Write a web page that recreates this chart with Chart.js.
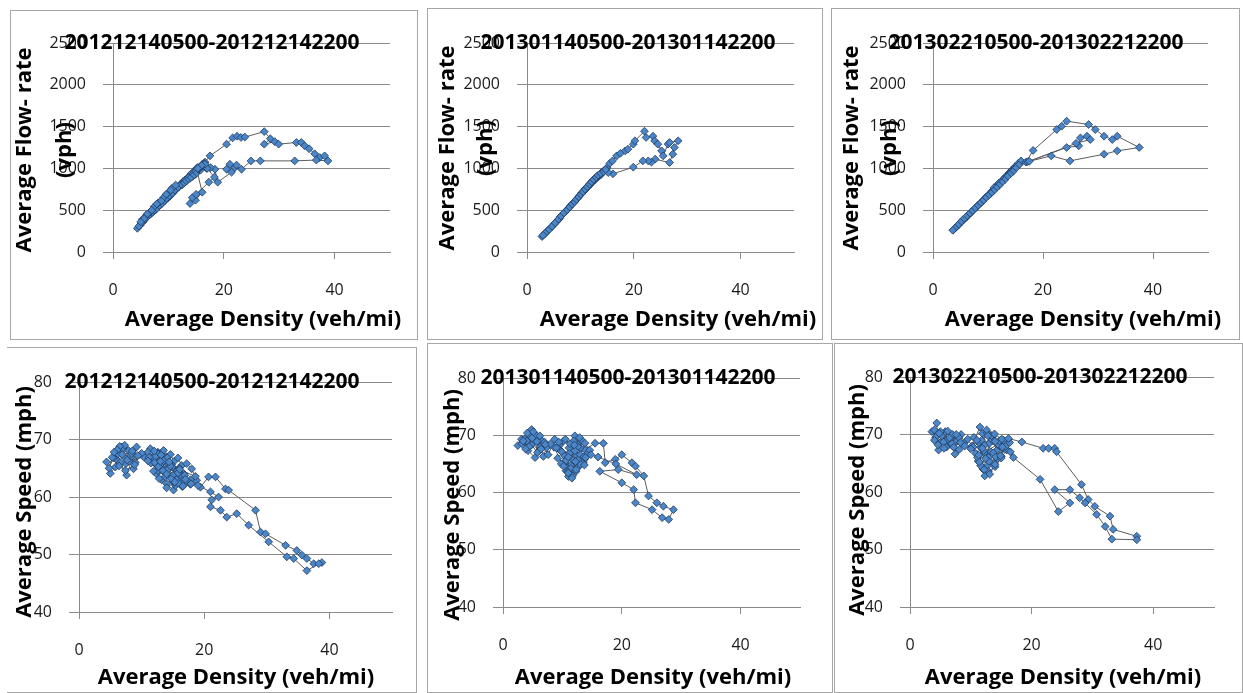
<!DOCTYPE html>
<html>
<head>
<meta charset="UTF-8">
<title>Flow-rate and speed vs density</title>
<script src="https://cdn.jsdelivr.net/npm/chart.js"></script>
<style>
  body {
    margin: 0;
    width: 1243px;
    height: 693px;
    overflow: hidden;
    position: relative;
    background: #ffffff;
    font-family: "Open Sans", sans-serif;
  }
  .frame {
    position: absolute;
    box-sizing: border-box;
    border: 1px solid #a6a6a6;
  }
  canvas {
    position: absolute;
  }
</style>
</head>
<body>
<script>
// 2012-12-14, 05:00-22:00
const decFlowDensity = [4.4,4.9,5.4,5.7,6.1,6.6,7.0,7.5,8.0,8.4,8.9,9.4,9.9,10.3,10.8,11.2,11.5,11.9,12.3,12.7,13.0,13.4,13.8,14.2,14.6,15.0,15.3,15.6,15.9,16.2,16.6,17.5,
  20.5,21.6,22.4,23.1,23.8,27.3,28.4,27.3,29.2,29.9,33.1,34.0,34.6,35.4,36.4,37.3,38.2,38.8,36.7,32.8,
  26.6,24.9,23.2,22.0,22.3,21.1,20.5,21.4,18.9,18.4,17.6,16.9,16.2,15.7,16.4,15.2,
  16.1,14.9,13.9,14.3,15.0,17.3,18.3,17.0,16.5,15.8,
  15.2,14.5,13.8,14.6,15.4,16.0,15.1,14.0,13.2,12.6,13.5,14.8,15.9,16.6,15.5,14.3,13.0,12.2,11.6,12.4,13.6,14.9,16.0,15.3,
  14.9,14.4,13.9,13.3,12.9,12.5,12.0,11.6,11.0,10.5,10.0,9.5,9.0,8.6,8.1,7.7,7.2,6.8,6.3,5.9,5.5,5.1,4.7,
  5.3,6.0,6.7,7.4,8.2,9.1,9.8,10.6,11.3,10.4,9.6,8.7,7.9,7.0,6.2,5.6,5.0];
const decFlow = [283,320,360,385,415,445,470,500,530,555,585,615,645,670,705,735,760,780,800,820,845,865,885,900,925,950,975,1000,1030,1055,1075,1150,
  1290,1365,1385,1370,1375,1440,1355,1290,1320,1290,1310,1310,1270,1235,1175,1130,1150,1090,1100,1090,
  1090,1090,990,1010,1040,1050,990,955,835,990,1010,1000,1020,990,1040,960,
  715,620,580,650,690,835,895,1000,1060,980,
  1010,960,905,940,990,1030,985,930,870,840,880,950,1020,1050,1000,925,860,810,780,815,890,965,1035,1000,
  930,905,880,850,830,805,790,765,730,690,660,630,595,565,540,505,480,455,430,400,375,345,310,
  390,440,480,540,590,650,700,760,800,740,690,610,575,500,455,400,360];

const decSpeedDensity = [4.4,5.0,5.8,6.3,6.0,6.8,7.2,7.9,7.5,8.3,8.7,9.2,7.6,6.6,6.2,7.0,8.0,
  10.3,11.4,12.0,12.6,13.1,13.5,14.0,14.6,15.2,15.8,16.4,17.2,18.0,18.8,19.4,20.7,21.8,23.4,23.9,28.2,
  29.0,29.8,33.0,34.8,35.6,36.4,37.5,38.8,38.3,36.4,34.3,33.2,30.3,27.1,25.2,23.6,22.6,21.0,21.2,22.3,
  21.0,19.0,17.8,16.5,15.1,14.0,13.2,12.4,12.8,13.6,14.5,15.5,16.0,14.8,13.9,13.0,12.2,11.7,12.9,14.2,
  15.0,16.8,17.5,16.2,15.4,
  11.0,11.8,12.5,13.3,14.1,14.9,15.7,16.3,15.0,13.8,12.6,11.5,12.2,13.0,14.3,15.6,16.9,17.8,16.5,15.2,14.0,12.8,11.9,13.5,14.6,15.8,
  12.1,13.4,14.7,15.9,17.0,16.1,14.4,13.1,12.0,11.2,12.7,14.0,15.3,16.6,17.9,18.6,
  13.0,11.0,10.0,9.0,8.4,7.3,6.5,5.5,4.8,
  5.3,6.1,6.9,7.7,8.5,9.4,8.9,7.4,6.4,5.6];
const decSpeed = [66.1,64.1,65.2,68.1,66.5,68.7,67.0,68.1,65.8,66.9,64.9,68.7,63.8,66.0,67.5,68.4,66.2,
  67.0,68.4,67.2,67.8,66.5,68.1,67.0,67.4,66.2,66.8,65.5,65.8,64.9,62.9,61.7,63.5,63.5,61.4,61.2,57.7,
  53.9,53.6,51.6,50.7,49.9,49.3,48.4,48.6,48.4,47.2,49.3,49.6,52.2,55.1,57.1,56.5,57.7,58.3,59.5,60.0,
  60.9,62.0,63.0,62.5,61.2,62.3,63.0,64.0,65.2,64.4,63.6,64.2,65.0,65.6,66.0,64.8,65.8,66.6,67.5,65.1,
  63.8,64.0,62.6,63.3,62.0,
  67.8,66.9,67.6,66.0,66.8,65.2,64.6,63.9,62.8,63.5,64.6,65.9,67.0,65.6,64.9,63.0,63.8,62.2,61.8,62.5,61.6,63.2,64.5,66.3,65.4,64.2,
  66.0,64.6,63.2,62.4,63.1,64.8,66.1,67.3,68.0,66.9,65.3,64.0,62.6,61.9,62.3,63.6,
  66.2,66.3,67.6,66.0,67.5,69.0,68.8,66.8,65.0,
  66.9,68.2,67.4,66.4,68.0,67.2,65.6,64.6,65.4,67.8];

// 2013-01-14, 05:00-22:00
const janFlowDensity = [2.8,3.3,3.7,4.2,4.7,5.1,5.6,6.1,6.5,7.0,7.5,8.0,8.4,8.9,9.3,9.7,10.1,10.5,10.9,11.3,
  11.7,12.1,12.5,12.9,13.3,13.8,14.3,15.0,15.5,16.0,16.8,17.5,18.4,18.9,19.9,20.2,22.0,22.3,23.6,23.9,
  24.5,25.2,25.5,26.4,26.7,28.3,27.6,27.3,26.7,24.0,23.3,22.7,21.7,19.9,16.1,
  14.2,13.6,12.8,12.0,11.4,10.8,11.6,12.4,13.2,14.0,14.8,13.9,12.9,11.9,10.9,10.2,10.8,11.7,12.7,13.7,
  15.2,14.7,14.0,13.5,13.0,12.6,12.2,11.8,11.4,11.0,10.6,10.2,9.8,9.4,9.0,8.6,8.2,7.8,7.3,6.8,6.2,5.7,5.2,4.6,4.0,3.4,3.0];
const janFlow = [185,215,245,275,305,335,365,400,440,470,505,540,570,600,630,660,690,720,750,780,
  810,840,865,890,915,940,965,1010,1060,1090,1150,1180,1210,1230,1290,1330,1445,1370,1385,1330,
  1290,1210,1150,1290,1310,1330,1250,1170,1070,1110,1075,1090,1090,1015,935,
  960,915,870,820,780,735,795,850,895,945,985,930,875,815,755,705,745,800,865,920,
  950,985,940,925,900,870,850,820,790,760,730,700,670,640,610,580,555,525,490,460,420,380,345,300,260,225,200];

const janSpeedDensity = [2.5,3.1,3.9,4.8,4.2,5.4,5.9,6.3,6.8,7.3,6.0,5.0,4.5,3.6,5.6,6.6,7.6,
  8.7,9.5,10.0,9.2,10.4,11.0,10.6,11.5,12.1,12.6,13.2,13.8,12.4,11.8,10.8,11.3,12.9,13.5,14.2,13.0,11.6,10.2,9.6,
  9.1,9.9,10.7,11.4,12.2,13.0,12.6,11.9,11.1,10.4,9.8,10.9,11.7,12.8,13.6,12.1,11.3,10.5,9.4,8.6,
  10.2,11.0,11.6,12.3,13.1,13.9,14.6,13.8,12.9,12.0,11.2,10.6,
  15.5,16.9,17.2,18.9,20.0,21.7,22.3,23.7,24.5,25.9,27.0,28.7,27.9,26.8,25.1,22.3,22.0,20.0,16.3,19.4,
  22.5,19.0,16.0,14.8,13.7,12.3,11.0,9.0,8.0,7.0,5.8,4.8,4.0,3.2,
  3.4,4.1,4.9,5.7,6.4,7.1,6.2,5.1,4.4,3.8];
const janSpeed = [68.2,69.3,69.6,71.0,67.3,66.1,69.3,68.0,66.3,67.8,67.2,68.6,69.8,68.8,70.0,69.0,66.6,
  69.3,68.2,67.0,66.0,65.2,62.8,63.8,64.8,69.9,68.4,69.2,67.5,66.5,65.6,64.3,63.3,66.0,65.2,66.8,67.8,68.6,69.0,67.4,
  68.0,67.1,65.9,64.2,65.4,66.6,68.0,69.0,67.8,66.4,65.0,63.6,62.9,64.6,66.2,67.3,68.5,69.3,68.8,67.9,
  64.6,63.4,62.5,63.7,64.9,66.1,67.4,68.6,69.6,68.3,66.8,65.6,
  68.6,68.6,65.2,65.8,66.6,65.2,64.6,62.9,59.4,58.2,57.6,57.0,55.3,55.6,57.0,58.2,60.5,61.7,63.7,64.0,
  63.1,65.0,66.2,66.6,64.8,64.0,66.2,67.8,68.5,68.8,67.0,68.3,69.0,68.5,
  69.0,70.4,69.5,68.9,67.6,68.4,69.9,70.6,68.0,67.6];

// 2013-02-21, 05:00-22:00
const febFlowDensity = [3.7,4.1,4.6,5.0,5.5,6.0,6.4,6.9,7.3,7.8,8.2,8.7,9.2,9.6,10.1,10.6,11.0,11.5,11.9,12.4,
  12.9,13.4,13.9,14.4,14.9,15.5,16.0,16.9,18.2,22.5,23.4,24.3,28.3,29.5,31.1,32.6,33.5,37.5,33.5,31.1,
  24.9,21.5,17.2,24.3,26.5,26.8,28.0,28.6,26.0,17.5,
  14.6,13.9,13.1,12.3,11.5,10.8,11.7,12.6,13.5,14.3,15.1,14.0,12.8,11.9,11.1,12.0,13.0,14.1,
  15.6,15.0,14.5,14.0,13.5,13.0,12.5,12.0,11.5,11.0,10.5,10.0,9.5,9.0,8.5,8.0,7.5,7.0,6.5,6.0,5.5,5.0,4.5,4.0,3.6];
const febFlow = [264,290,320,350,380,410,440,470,500,530,560,590,625,655,685,715,745,775,805,840,
  875,910,945,985,1020,1060,1090,1075,1215,1465,1505,1565,1525,1465,1385,1345,1385,1250,1210,1170,
  1090,1150,1080,1250,1270,1365,1385,1345,1300,1085,
  990,945,890,835,785,735,790,855,915,960,1010,950,870,815,770,825,885,955,
  1040,1000,960,930,900,860,830,795,765,730,700,670,640,605,575,545,515,480,450,420,390,355,320,285,260];

const febSpeedDensity = [3.6,4.4,4.7,5.2,5.8,6.3,6.9,7.4,7.8,8.4,8.9,6.0,5.0,4.2,7.0,8.1,9.5,10.2,11.5,11.9,
  12.3,12.0,11.2,10.8,11.6,12.5,13.0,13.6,14.2,14.8,15.4,15.0,13.8,12.8,12.2,13.3,14.4,15.8,
  10.5,11.3,12.1,12.9,13.7,14.5,15.3,14.1,13.0,12.0,11.1,10.4,11.8,12.7,13.5,12.4,11.6,12.9,14.0,15.0,15.9,14.7,13.4,12.2,
  11.4,12.2,13.1,14.0,14.9,15.7,16.4,15.1,13.9,12.6,11.9,11.3,
  16.2,18.4,21.9,22.8,23.8,24.1,28.2,29.3,30.4,32.9,33.4,37.3,37.3,33.2,32.1,30.7,28.8,27.9,26.3,23.8,26.3,24.4,
  21.4,17.0,16.5,15.2,14.0,12.8,11.0,10.0,9.0,8.0,7.0,6.0,5.0,4.0,
  4.0,4.8,5.5,6.2,6.9,7.6,8.3,7.2,6.5,5.6,4.6];
const febSpeed = [70.5,72.0,67.3,69.8,70.5,68.8,69.6,66.6,69.0,70.0,68.5,67.8,68.6,69.5,68.0,67.4,69.2,68.0,71.3,70.2,
  62.8,64.0,65.4,66.7,67.8,66.0,68.4,69.6,67.2,68.0,69.0,66.2,65.0,64.6,66.8,67.0,65.8,67.5,
  69.5,68.6,67.2,66.0,66.8,68.3,67.6,66.1,65.3,64.1,66.0,67.8,69.0,70.3,69.1,65.8,64.6,63.6,64.4,65.9,67.3,68.9,69.8,68.1,
  65.2,63.9,63.1,64.8,66.3,67.9,68.6,69.2,70.1,70.8,67.6,66.4,
  69.3,68.7,67.6,67.6,67.6,67.0,61.3,58.7,57.5,55.8,53.5,52.3,51.7,51.8,54.0,56.1,58.1,59.0,60.4,60.4,58.1,56.6,
  62.2,66.0,67.0,67.8,68.8,69.8,69.0,67.5,68.0,69.5,70.0,69.0,70.5,70.8,
  69.0,70.2,68.7,70.6,68.4,70.0,68.6,67.8,69.4,67.6,68.2];

const densityTicks = [0, 20, 40];
const flowTicks = [0, 500, 1000, 1500, 2000, 2500];
const speedTicks = [40, 50, 60, 70, 80];

const densityLabel = 'Average Density (veh/mi)';
const flowLabel = ['Average Flow- rate', '(vph)'];
const speedLabel = ['Average Speed (mph)'];

const gridColor = '#8a8a8a';
const tickFont = { family: 'Open Sans', size: 16 };
const titleFont = '700 21px "Open Sans"';
const axisTitleFont = '700 22px "Open Sans"';

// box = frame [x, y, w, h]; area = plot area [left, top, right, bottom] in page pixels
const panels = [
  { title: '201212140500-201212142200', xs: decFlowDensity, ys: decFlow, yTicks: flowTicks, yLabel: flowLabel,
    box: [10, 10, 408, 330], area: [113, 43, 390, 252], titleX: 212, xLabelX: 263, xLabelY: 320, yLabelX: [25, 65], yLabelY: 150 },
  { title: '201301140500-201301142200', xs: janFlowDensity, ys: janFlow, yTicks: flowTicks, yLabel: flowLabel,
    box: [427, 8, 396, 332], area: [527, 43, 794, 252], titleX: 628, xLabelX: 678, xLabelY: 320, yLabelX: [448, 486], yLabelY: 148 },
  { title: '201302210500-201302212200', xs: febFlowDensity, ys: febFlow, yTicks: flowTicks, yLabel: flowLabel,
    box: [831, 8, 409, 332], area: [933, 43, 1208, 252], titleX: 1036, xLabelX: 1083, xLabelY: 320, yLabelX: [852, 890], yLabelY: 148 },
  { title: '201212140500-201212142200', xs: decSpeedDensity, ys: decSpeed, yTicks: speedTicks, yLabel: speedLabel,
    box: [7, 347, 410, 346], area: [79, 382, 392, 612], titleX: 212, xLabelX: 236, xLabelY: 678, yLabelX: [25], yLabelY: 502, noLeft: true },
  { title: '201301140500-201301142200', xs: janSpeedDensity, ys: janSpeed, yTicks: speedTicks, yLabel: speedLabel,
    box: [427, 343, 406, 350], area: [503, 378, 800, 607], titleX: 628, xLabelX: 653, xLabelY: 678, yLabelX: [453], yLabelY: 505 },
  { title: '201302210500-201302212200', xs: febSpeedDensity, ys: febSpeed, yTicks: speedTicks, yLabel: speedLabel,
    box: [834, 343, 409, 350], area: [910, 377, 1214, 607], titleX: 1040, xLabelX: 1063, xLabelY: 678, yLabelX: [858], yLabelY: 500 }
];

// chart title and axis titles, laid over the axes the way the spreadsheet draws them
function panelText(p) {
  const [bx, by] = p.box;
  return {
    id: 'panelText',
    afterDraw(chart) {
      const ctx = chart.ctx;
      ctx.save();
      ctx.fillStyle = '#000000';
      ctx.textAlign = 'center';
      ctx.textBaseline = 'middle';
      ctx.font = titleFont;
      ctx.fillText(p.title, p.titleX - bx, chart.chartArea.top);
      ctx.font = axisTitleFont;
      ctx.fillText(densityLabel, p.xLabelX - bx, p.xLabelY - by);
      p.yLabel.forEach((line, i) => {
        ctx.save();
        ctx.translate(p.yLabelX[i] - bx, p.yLabelY - by);
        ctx.rotate(-Math.PI / 2);
        ctx.fillText(line, 0, 0);
        ctx.restore();
      });
      ctx.restore();
    }
  };
}

panels.forEach(p => {
  const [bx, by, bw, bh] = p.box;
  const [al, at, ar, ab] = p.area;

  const frame = document.createElement('div');
  frame.className = 'frame';
  frame.style.left = bx + 'px';
  frame.style.top = by + 'px';
  frame.style.width = bw + 'px';
  frame.style.height = bh + 'px';
  if (p.noLeft) frame.style.borderLeft = 'none';

  const cv = document.createElement('canvas');
  cv.width = bw;
  cv.height = bh;
  cv.style.left = bx + 'px';
  cv.style.top = by + 'px';
  document.body.append(frame, cv);

  new Chart(cv, {
    type: 'scatter',
    data: {
      datasets: [{
        data: p.xs.map((x, i) => ({ x: x, y: p.ys[i] })),
        showLine: true,
        borderColor: '#5c5c5c',
        borderWidth: 1,
        pointStyle: 'rectRot',
        pointRadius: 3.9,
        pointBackgroundColor: '#4a86c8',
        pointBorderColor: '#1f3a5e',
        pointBorderWidth: 0.8
      }]
    },
    options: {
      responsive: false,
      animation: false,
      layout: { padding: { left: 0, top: at - by, right: bx + bw - ar, bottom: 0 } },
      plugins: {
        legend: { display: false },
        tooltip: { enabled: false }
      },
      scales: {
        x: {
          type: 'linear',
          min: 0,
          max: 50,
          afterBuildTicks: s => { s.ticks = densityTicks.map(v => ({ value: v })); },
          afterFit: s => { s.height = by + bh - ab; },
          grid: { drawOnChartArea: false, tickLength: 7, color: gridColor },
          border: { color: gridColor },
          ticks: { padding: 22, color: '#1a1a1a', font: tickFont, maxRotation: 0, callback: v => String(v) }
        },
        y: {
          min: p.yTicks[0],
          max: p.yTicks[p.yTicks.length - 1],
          afterBuildTicks: s => { s.ticks = p.yTicks.map(v => ({ value: v })); },
          afterFit: s => { s.width = al - bx; },
          grid: { tickLength: 10, color: gridColor },
          border: { color: gridColor },
          ticks: { padding: 17, color: '#1a1a1a', font: tickFont, callback: v => String(v) }
        }
      }
    },
    plugins: [panelText(p)]
  });
});
</script>
</body>
</html>
